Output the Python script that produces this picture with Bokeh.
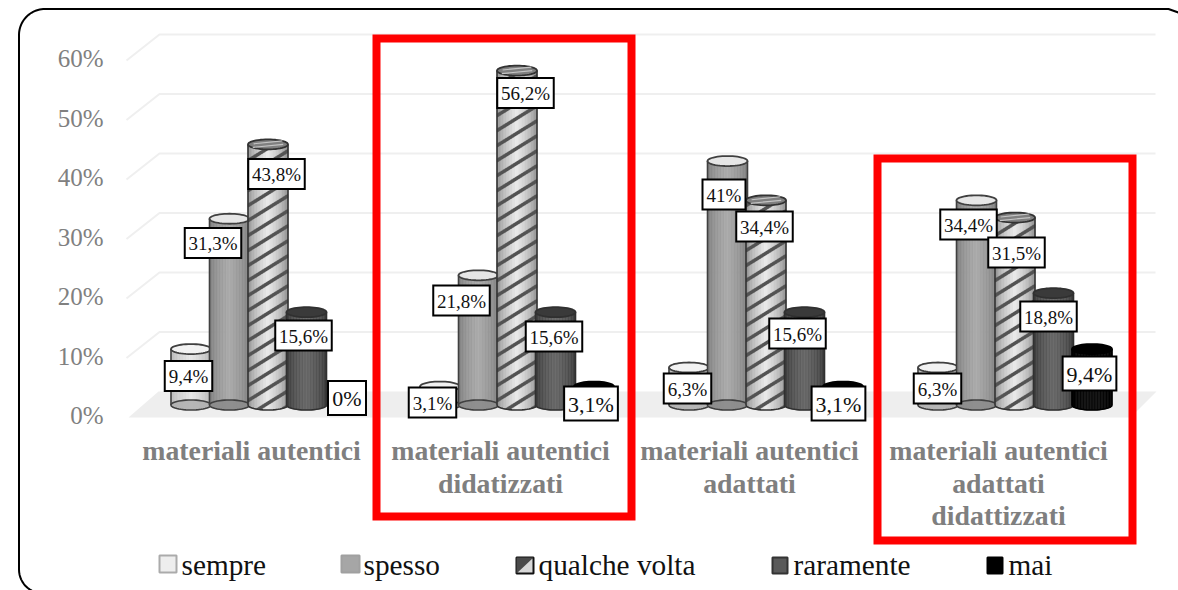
import numpy as np
from bokeh.plotting import figure
from bokeh.models import Range1d, LinearAxis, FixedTicker
from bokeh.core.properties import value
from bokeh.embed import file_html
from bokeh.resources import INLINE

# ---- data ----
categories = ["materiali autentici", "materiali autentici\ndidatizzati",
              "materiali autentici\nadattati", "materiali autentici\nadattati\ndidattizzati"]
series_names = ["sempre", "spesso", "qualche volta", "raramente", "mai"]
sempre = [9.4, 3.1, 6.3, 6.3]
spesso = [31.3, 21.8, 41, 34.4]
qualche = [43.8, 56.2, 34.4, 31.5]
raramente = [15.6, 15.6, 15.6, 18.8]
mai = [0, 3.1, 3.1, 9.4]
y_ticks = [0, 10, 20, 30, 40, 50, 60]
y_tick_labels = ["0%", "10%", "20%", "30%", "40%", "50%", "60%"]

# ---- layout (reference pixels) ----
W, H = 1178, 590
OX, OY = 0, 0
PXV = 5.95           # pixels per percentage point
BASE = 404.5         # bars' zero line
GROUP = 249.0        # pixels per category
G0 = 267.5           # centre of first group
BAR_W = 40.0
BAR_STEP = 38.5
RY = 5.0
FONT = value("Liberation Serif")

def yr(zero):
    return Range1d((zero - (OY + H)) / PXV, (zero - OY) / PXV)

p = figure(width=W, height=H, output_backend="svg", toolbar_location=None,
           x_range=Range1d((OX - G0) / GROUP, (OX + W - G0) / GROUP),
           y_range=yr(BASE), min_border=0, min_border_left=0, min_border_right=0,
           min_border_top=0, min_border_bottom=0, outline_line_color=None,
           x_axis_type=None, y_axis_type=None)
p.grid.visible = False
p.background_fill_color = "white"
p.border_fill_color = "white"
p.extra_x_ranges = {"px": Range1d(OX, OX + W),
                    "cat": Range1d((OX - 251.0) / GROUP, (OX + W - 251.0) / GROUP)}
p.extra_y_ranges = {"px": Range1d(OY + H, OY),
                    "front": yr(415.0),
                    "grid": yr(391.0)}
PX = dict(x_range_name="px", y_range_name="px")

# outer rounded border
R = 26
L, T = 18.5, 8.5
a = np.linspace(np.pi, 1.5 * np.pi, 24)
bx = list(L + R + R * np.cos(a)) + [1168.0, 1178.0]
by = list(T + R + R * np.sin(a)) + [T, T + 3.5]
p.line(bx, by, line_color="black", line_width=2, **PX)
a2 = np.linspace(np.pi, 0.62 * np.pi, 12)
p.line([L, L] + list(L + 24 + 24 * np.cos(a2)), [T + R, 569] + list(569 + 24 * np.sin(a2 - np.pi) * -1),
       line_color="black", line_width=2, **PX)

# floor
p.patch([128, 158, 1156, 1130], [417, 391, 391, 417], fill_color="#eeeeee", line_color=None, **PX)

# back grid lines
for v in y_ticks[1:]:
    off = 26 / PXV
    p.line([126, 159, 1155], [v - off, v, v], line_color="#efefef", line_width=2,
           x_range_name="px", y_range_name="grid")

# cylinders
unit_w = BAR_W / GROUP
step = BAR_STEP / GROUP
ry = RY / PXV

def ellipse_pts(cx, cy):
    t = np.linspace(0, 2 * np.pi, 49)
    return list(cx + unit_w / 2 * np.cos(t)), list(cy + ry * np.sin(t))

def lerp_hex(c1, c2, f):
    a = np.array([int(c1[i:i + 2], 16) for i in (1, 3, 5)])
    b = np.array([int(c2[i:i + 2], 16) for i in (1, 3, 5)])
    c = (a + (b - a) * f).astype(int)
    return "#%02x%02x%02x" % tuple(c)

styles = [
    dict(edge="#b4b4b4", mid="#e8e8e8", top="#f2f2f2", base="#b0b0b0", line="#404040"),
    dict(edge="#7c7c7c", mid="#ababab", top="#e6e6e6", base="#8c8c8c", line="#404040"),
    dict(edge="#8c8c8c", mid="#ebebeb", top="#7f7f7f", base="#9a9a9a", line="#333333"),
    dict(edge="#383838", mid="#686868", top="#3a3a3a", base="#404040", line="#303030"),
    dict(edge="#000000", mid="#101010", top="#000000", base="#000000", line="#000000"),
]
all_series = [sempre, spesso, qualche, raramente, mai]
N = 26

for g in range(4):
    for s, vals in enumerate(all_series):
        v = vals[g]
        if v == 0:
            continue
        st = styles[s]
        cx = g + (s - 2) * step
        edges = np.linspace(-0.5, 0.5, N + 1)
        xs, ys, cols = [], [], []
        for i in range(N):
            x0, x1 = edges[i], edges[i + 1]
            m = (x0 + x1) / 2
            f = 1 - abs(m) * 2
            low = -ry * np.sqrt(max(0, 1 - (2 * m) ** 2))
            xs.append([cx + x0 * unit_w, cx + x1 * unit_w, cx + x1 * unit_w, cx + x0 * unit_w])
            ys.append([low, low, v, v])
            cols.append(lerp_hex(st["edge"], st["mid"], f ** 0.7))
        p.patches(xs, ys, fill_color=cols, line_color=cols, line_width=0.6)
        # diagonal stripes of "qualche volta"
        if s == 2:
            period = 15 / PXV
            thick = 3.6 / PXV
            sx = np.linspace(-0.5, 0.5, 41)
            qx, qy = [], []
            for j in range(len(sx) - 1):
                m = (sx[j] + sx[j + 1]) / 2
                rise = m * BAR_W * 0.62 / PXV
                low = -ry * np.sqrt(max(0, 1 - (2 * m) ** 2))
                for k in range(-3, 40):
                    y0 = k * period + rise
                    y1 = y0 + thick
                    a0, a1 = max(y0, low), min(y1, v)
                    if a1 > a0:
                        qx.append([cx + sx[j] * unit_w, cx + sx[j + 1] * unit_w,
                                   cx + sx[j + 1] * unit_w, cx + sx[j] * unit_w])
                        qy.append([a0, a0, a1, a1])
            p.patches(qx, qy, fill_color="#555555", line_color="#555555", line_width=0.3)
        # sides
        p.segment([cx - unit_w / 2, cx + unit_w / 2], [0, 0], [cx - unit_w / 2, cx + unit_w / 2], [v, v],
                  line_color=st["line"], line_width=1.6)
        # base ellipse
        ex, ey = ellipse_pts(cx, 0.0)
        if s < 2:
            p.patch(ex, ey, fill_color=st["base"], fill_alpha=0.9, line_color=st["line"], line_width=1.6)
        else:
            t = np.linspace(np.pi, 2 * np.pi, 25)
            p.line(list(cx + unit_w / 2 * np.cos(t)), list(ry * np.sin(t)), line_color=st["line"], line_width=1.6)
        # top ellipse
        ex, ey = ellipse_pts(cx, v)
        p.patch(ex, ey, fill_color=st["top"], line_color=st["line"], line_width=1.8)
        if s == 2:
            for dy, hw in ((0.35, 0.36), (-0.25, 0.38)):
                p.line([cx - hw * unit_w, cx + hw * unit_w], [v + dy - 0.25, v + dy + 0.25],
                       line_color="#c4c4c4", line_width=1.2)

# red highlight rectangles
p.quad(left=[376, 877], right=[631, 1132], top=[38, 158], bottom=[516, 540], fill_color=None,
       line_color="#ff0000", line_width=8, line_join="miter", **PX)

# data label boxes: centre positions in reference pixels, one row per category
label_pos = [
    [(188, 375.5), (212.5, 242.5), (276, 173.5), (303, 335), (346.5, 397.5)],
    [(432, 402), (461, 300), (525, 92.5), (553.5, 336), (590.5, 403)],
    [(687, 388), (723.5, 194), (764, 226), (797, 333), (838, 403)],
    [(937, 388), (968, 224), (1016, 252), (1048, 316), (1089, 373)],
]
EM = {"%": 0.833, ",": 0.25}
for g in range(4):
    for s, vals in enumerate(all_series):
        txt = ("%g%%" % vals[g]).replace(".", ",")
        fs = 21 if s == 4 else 18
        tw = sum(EM.get(c, 0.5) for c in txt) * fs
        bw = tw + 10
        bh = 34 if s == 4 else 30
        x, y = label_pos[g][s]
        p.quad([x - bw / 2], [x + bw / 2], [y - bh / 2], [y + bh / 2], fill_color="white",
               line_color="black", line_width=2, line_join="miter", **PX)
        p.text([x], [y + 0.5], text=[txt], text_font=FONT, text_font_size=f"{fs + 1}px", text_color="#111111",
               text_align="center", text_baseline="middle", **PX)

# y axis pinned inside the frame
yax = LinearAxis(y_range_name="front", ticker=FixedTicker(ticks=y_ticks),
                 major_label_overrides={t: l for t, l in zip(y_ticks, y_tick_labels)},
                 major_label_text_font="Liberation Serif", major_label_text_font_size="25px",
                 major_label_text_color="#808080", axis_line_color=None, major_tick_line_color=None,
                 minor_tick_line_color=None, major_label_standoff=5)
yax.fixed_location = (114 - G0) / GROUP
p.add_layout(yax, "left")

# category labels, one text per line
for i, c in enumerate(categories):
    for j, line in enumerate(c.split("\n")):
        p.text([i], [450 + j * 32.5], text=[line], text_font=FONT, text_font_style="bold",
               text_font_size="27.8px", text_color="#7f7f7f", text_align="center", text_baseline="middle",
               x_range_name="cat", y_range_name="px")

# legend
leg_box = [(159, 176, 555, 572), (341, 359, 555, 572), (516, 533, 557, 573), (772, 787, 557, 573), (987, 1002, 557, 573)]
leg_txt = [181, 363, 538, 793, 1008]
leg_fill = ["#eeeeee", "#a6a6a6", "#d8d8d8", "#5a5a5a", "#000000"]
leg_line = ["#ababab", "#a0a0a0", "#111111", "#333333", "#000000"]
for i, name in enumerate(series_names):
    a_, b_, c_, d_ = leg_box[i]
    p.quad([a_], [b_], [c_], [d_], fill_color=leg_fill[i], line_color=leg_line[i], line_width=2, **PX)
    if i == 2:
        p.patch([a_, b_, a_], [d_, c_, c_], fill_color="#4a4a4a", line_color=None, **PX)
    p.text([leg_txt[i]], [564], text=[name], text_font=FONT, text_font_size="29.3px", text_color="#111111",
           text_align="left", text_baseline="middle", **PX)

open("out.html", "w").write(file_html(p, INLINE))
